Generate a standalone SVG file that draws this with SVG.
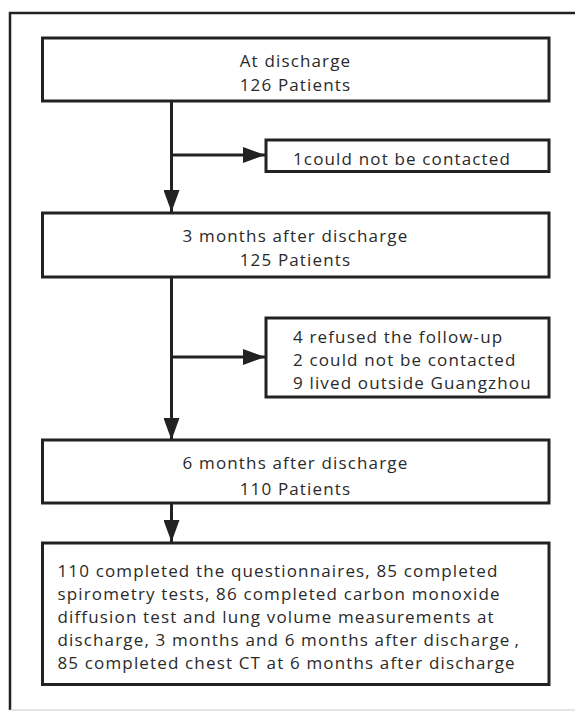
<svg xmlns="http://www.w3.org/2000/svg" width="575" height="712" viewBox="0 0 575 712">
<style>
.box{fill:#fff;stroke:#222;stroke-width:3}
.frame{fill:none;stroke:#222;stroke-width:2.5}
.t{font-family:"Open Sans","Noto Sans",sans-serif;font-size:17px;letter-spacing:1.15px;fill:#2a2a2a}
.c{text-anchor:middle}
.ln{stroke:#222;stroke-width:3;fill:none}
</style>
<defs>
<marker id="ah" markerWidth="22" markerHeight="16" refX="22" refY="8" orient="auto" markerUnits="userSpaceOnUse">
<path d="M0,0 L22,8 L0,16 Z" fill="#222"/>
</marker>
</defs>
<rect width="575" height="712" fill="#fff"/>
<path class="frame" d="M10,710 L10,13 L575,13"/>
<line x1="10" y1="710" x2="575" y2="710" stroke="#ccc" stroke-width="1"/>
<g id="connectors">
<line class="ln" x1="171.5" y1="101" x2="171.5" y2="212" marker-end="url(#ah)"/>
<line class="ln" x1="171.5" y1="155" x2="265" y2="155" marker-end="url(#ah)"/>
<line class="ln" x1="171.5" y1="277" x2="171.5" y2="440" marker-end="url(#ah)"/>
<line class="ln" x1="171.5" y1="357" x2="265" y2="357" marker-end="url(#ah)"/>
<line class="ln" x1="171.5" y1="503" x2="171.5" y2="542" marker-end="url(#ah)"/>
</g>
<g id="n1">
<rect class="box" x="42.5" y="38" width="506.5" height="63"/>
<text class="t c" x="295.5" y="66.5">At discharge</text>
<text class="t c" x="295.5" y="90.5">126 Patients</text>
</g>
<g id="n2">
<rect class="box" x="266" y="140" width="283" height="31.5"/>
<text class="t" x="293" y="164.5">1could not be contacted</text>
</g>
<g id="n3">
<rect class="box" x="42.5" y="213" width="506.5" height="64"/>
<text class="t c" x="295.5" y="242">3 months after discharge</text>
<text class="t c" x="295.5" y="266">125 Patients</text>
</g>
<g id="n4">
<rect class="box" x="266" y="318" width="283" height="79"/>
<text class="t" x="293" y="343">4 refused the follow-up</text>
<text class="t" x="293" y="366">2 could not be contacted</text>
<text class="t" x="293" y="389">9 lived outside Guangzhou</text>
</g>
<g id="n5">
<rect class="box" x="42.5" y="440" width="506.5" height="63"/>
<text class="t c" x="295.5" y="469">6 months after discharge</text>
<text class="t c" x="295.5" y="495">110 Patients</text>
</g>
<g id="n6">
<rect class="box" x="42.5" y="543" width="506.5" height="141.5"/>
<text class="t" x="57.5" y="577">110 completed the questionnaires, 85 completed</text>
<text class="t" x="57.5" y="600">spirometry tests, 86 completed carbon monoxide</text>
<text class="t" x="57.5" y="623">diffusion test and lung volume measurements at</text>
<text class="t" x="57.5" y="646">discharge, 3 months and 6 months after discharge<tspan dx="4">,</tspan></text>
<text class="t" x="57.5" y="669">85 completed chest CT at 6 months after discharge</text>
</g>
</svg>
